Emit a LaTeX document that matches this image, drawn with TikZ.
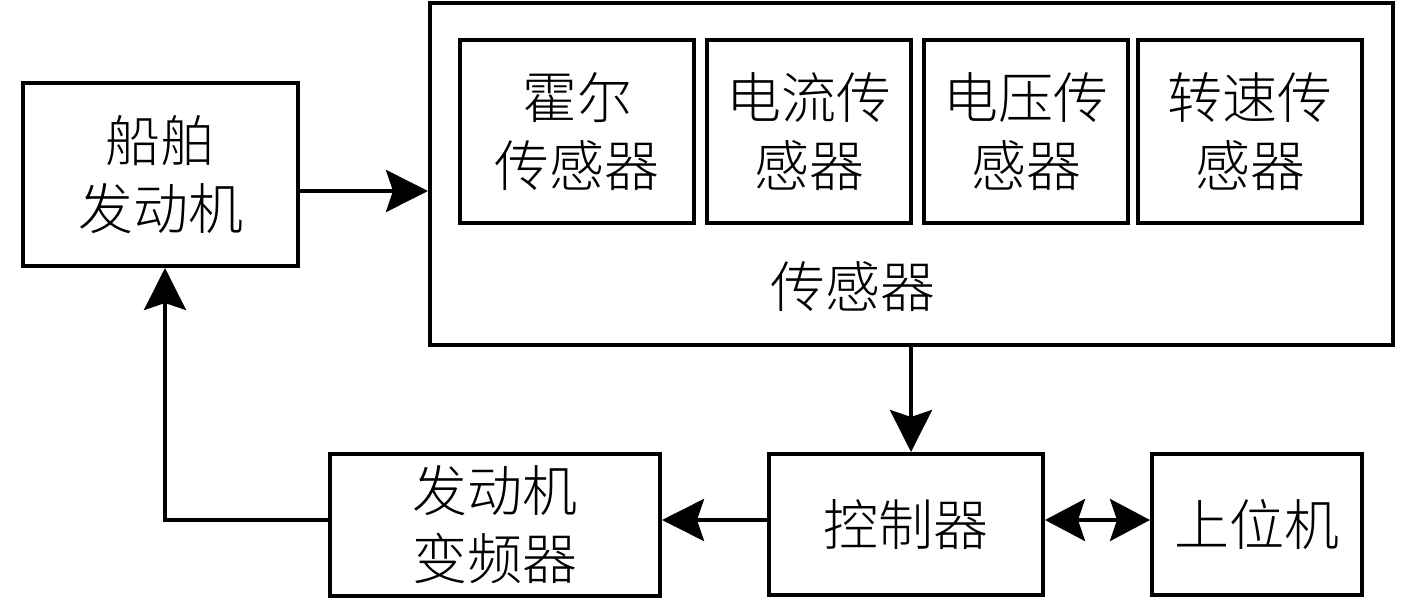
\documentclass[tikz,border=0pt]{standalone}
\usepackage{fontspec}
\newfontfamily\cjk{Noto Sans CJK SC Light}
\usetikzlibrary{arrows.meta}
\begin{document}
\begin{tikzpicture}[x=1pt,y=-1pt,
  box/.style={draw=black,line width=4pt,fill=white,inner sep=0pt,align=center,
    font=\cjk\fontsize{55}{68}\selectfont},
  lbl/.style={inner sep=0pt,align=center,font=\cjk\fontsize{55}{68}\selectfont},
  arr/.style={line width=4pt,-{Stealth[length=42pt,width=42pt,inset=7pt]}},
  darr/.style={line width=4pt,{Stealth[length=40pt,width=42pt,inset=7pt]}-{Stealth[length=40pt,width=42pt,inset=7pt]}}]
\useasboundingbox (0,0) rectangle (1417,600);
\node[box,minimum width=275pt,minimum height=183pt] (engine) at (160.5,174.5) {船舶\\发动机};
\node[box,minimum width=963pt,minimum height=342pt] (sensors) at (911.5,174) {};
\node[lbl] (sensorlbl) at (853,287) {传感器};
\node[box,minimum width=234pt,minimum height=183pt] (hall) at (577,131.5) {霍尔\\传感器};
\node[box,minimum width=204pt,minimum height=183pt] (current) at (809,131.5) {电流传\\感器};
\node[box,minimum width=204pt,minimum height=183pt] (voltage) at (1026,131.5) {电压传\\感器};
\node[box,minimum width=224pt,minimum height=183pt] (speed) at (1250,131.5) {转速传\\感器};
\node[box,minimum width=330pt,minimum height=142pt] (conv) at (495,525) {发动机\\变频器};
\node[box,minimum width=274pt,minimum height=141pt] (ctrl) at (906,524.5) {控制器};
\node[box,minimum width=210pt,minimum height=141pt] (host) at (1257,524.5) {上位机};
\coordinate (corner) at (165,520);
\draw[arr] (engine.east |- 0,191) -- (sensors.west |- 0,191);
\draw[arr] (sensors.south -| 911,0) -- (ctrl.north -| 911,0);
\draw[arr] (ctrl.west |- 0,520) -- (conv.east |- 0,520);
\draw[darr] (ctrl.east |- 0,520) -- (host.west |- 0,520);
\draw[arr] (conv.west |- 0,520) -- (corner) -- (engine.south -| corner);
\end{tikzpicture}
\end{document}
